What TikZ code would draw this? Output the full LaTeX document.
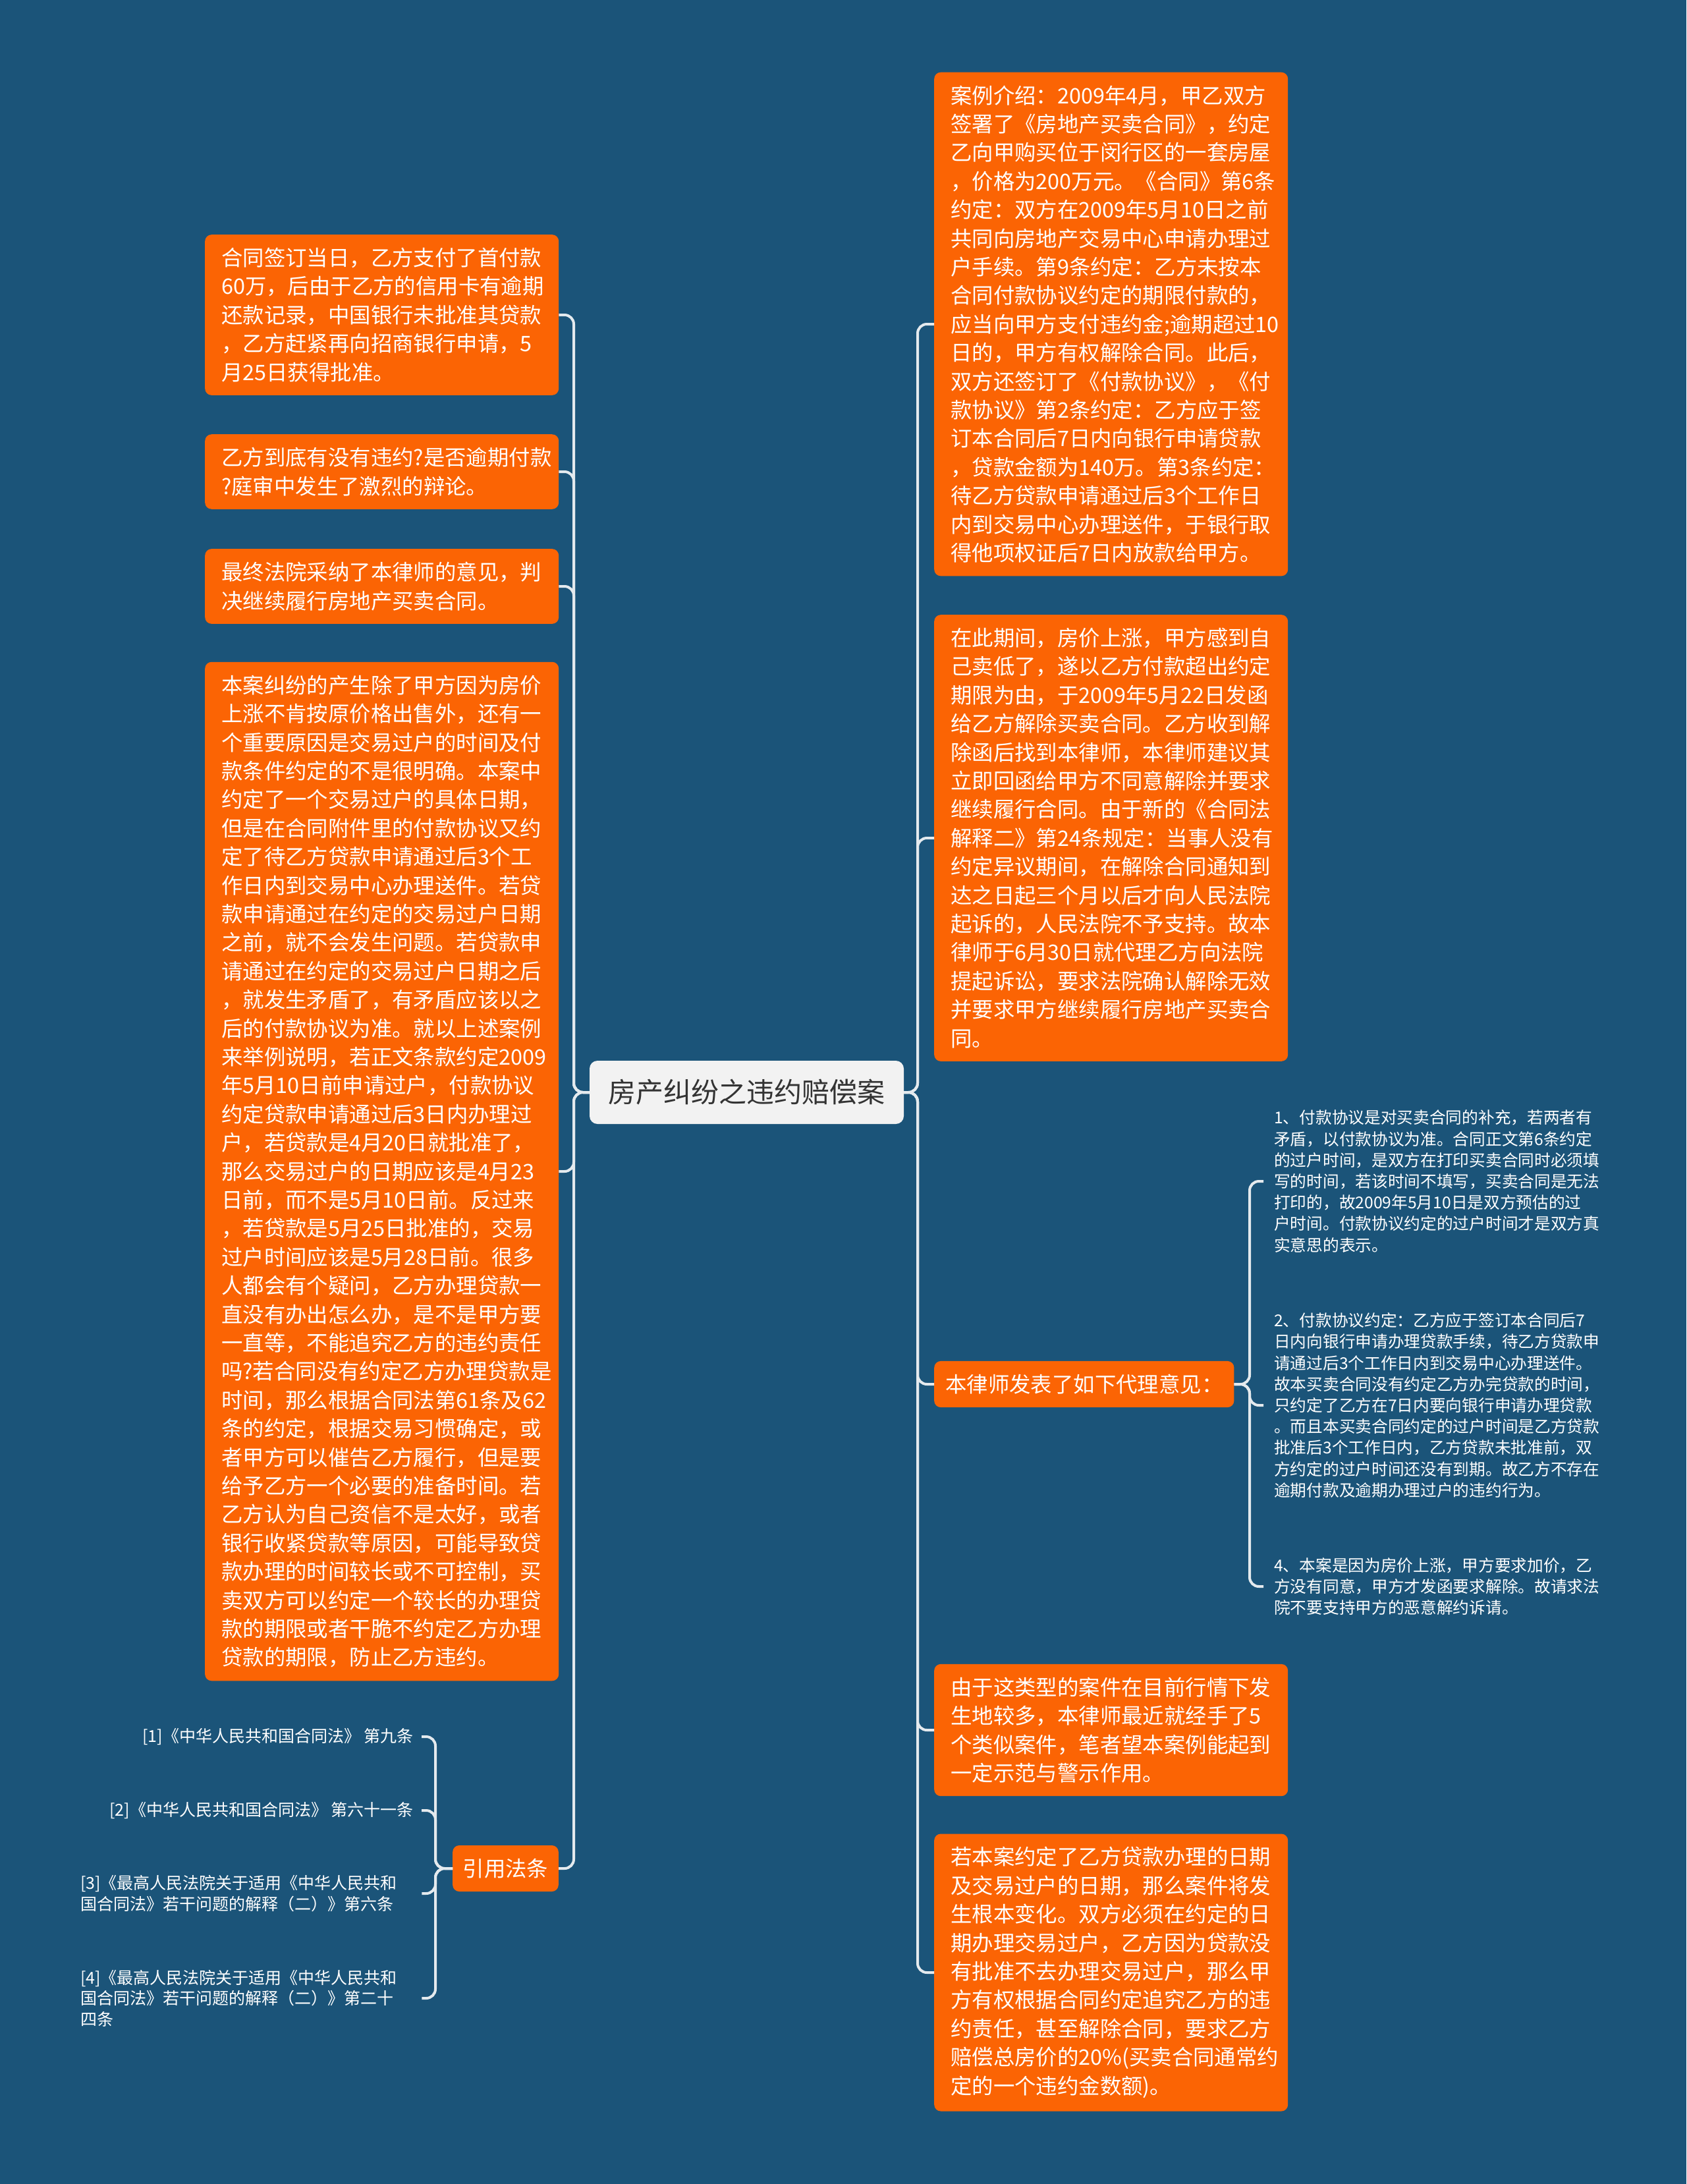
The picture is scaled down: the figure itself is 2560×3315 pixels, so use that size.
\documentclass[tikz,border=0pt]{standalone}
\usepackage{fontspec}
\setmainfont{Noto Sans CJK SC}
\definecolor{bgc}{HTML}{1B5479}
\definecolor{orc}{HTML}{FB6404}
\definecolor{lnc}{HTML}{E4EAEE}
\definecolor{cfill}{HTML}{F2F2F2}
\definecolor{ctext}{HTML}{333333}
\newcommand\myBoxFont{\fontsize{32.4pt}{43.4pt}\selectfont}
\newcommand\myNoteFont{\fontsize{24.7pt}{32.2pt}\selectfont}
\newcommand\myRefFont{\fontsize{25pt}{31.5pt}\selectfont}
\newcommand\myTopFont{\fontsize{42pt}{50pt}\selectfont}
\begin{document}
\begin{tikzpicture}[x=1pt,y=-1pt,
 obox/.style={fill=orc, rounded corners=10pt, text=white, align=left, text width=487pt, inner xsep=25pt, inner ysep=20pt, font=\myBoxFont, anchor=west},
 sbox/.style={fill=orc, rounded corners=10pt, text=white, inner ysep=20pt, font=\myBoxFont},
 note/.style={text=white, align=left, inner xsep=16pt, inner ysep=4pt, font=\myNoteFont, anchor=west},
 refn/.style={text=white, inner xsep=12pt, inner ysep=4pt, font=\myRefFont},
 conn/.style={draw=lnc, line width=4pt, rounded corners=14pt},
 cbox/.style={fill=cfill, rounded corners=12pt, text=ctext, font=\myTopFont, minimum width=477pt, minimum height=96pt, inner sep=0pt}
]
\fill[bgc] (0,0) rectangle (2560,3315);
\useasboundingbox (0,0) rectangle (2560,3315);

\node[cbox] (c) at (1133.5,1658) {房产纠纷之违约赔偿案};
\coordinate (rj) at (1393,1658);
\coordinate (lj) at (871,1658);

% right side
\node[obox] (r1) at (1418,492) {案例介绍：2009年4月，甲乙双方\\签署了《房地产买卖合同》，约定\\乙向甲购买位于闵行区的一套房屋\\，价格为200万元。《合同》第6条\\约定：双方在2009年5月10日之前\\共同向房地产交易中心申请办理过\\户手续。第9条约定：乙方未按本\\合同付款协议约定的期限付款的，\\应当向甲方支付违约金;逾期超过10\\日的，甲方有权解除合同。此后，\\双方还签订了《付款协议》，《付\\款协议》第2条约定：乙方应于签\\订本合同后7日内向银行申请贷款\\，贷款金额为140万。第3条约定：\\待乙方贷款申请通过后3个工作日\\内到交易中心办理送件，于银行取\\得他项权证后7日内放款给甲方。};
\node[obox] (r2) at (1418,1272) {在此期间，房价上涨，甲方感到自\\己卖低了，遂以乙方付款超出约定\\期限为由，于2009年5月22日发函\\给乙方解除买卖合同。乙方收到解\\除函后找到本律师，本律师建议其\\立即回函给甲方不同意解除并要求\\继续履行合同。由于新的《合同法\\解释二》第24条规定：当事人没有\\约定异议期间，在解除合同通知到\\达之日起三个月以后才向人民法院\\起诉的，人民法院不予支持。故本\\律师于6月30日就代理乙方向法院\\提起诉讼，要求法院确认解除无效\\并要求甲方继续履行房地产买卖合\\同。};
\node[sbox, anchor=west, inner xsep=17pt] (r3) at (1418,2101) {本律师发表了如下代理意见：};
\node[obox] (r4) at (1418,2626) {由于这类型的案件在目前行情下发\\生地较多，本律师最近就经手了5\\个类似案件，笔者望本案例能起到\\一定示范与警示作用。};
\node[obox] (r5) at (1418,2994) {若本案约定了乙方贷款办理的日期\\及交易过户的日期，那么案件将发\\生根本变化。双方必须在约定的日\\期办理交易过户，乙方因为贷款没\\有批准不去办理交易过户，那么甲\\方有权根据合同约定追究乙方的违\\约责任，甚至解除合同，要求乙方\\赔偿总房价的20\%(买卖合同通常约\\定的一个违约金数额)。};

% notes
\coordinate (nj) at (1897,2101);
\node[note] (n1) at (1918,1793) {1、付款协议是对买卖合同的补充，若两者有\\矛盾，以付款协议为准。合同正文第6条约定\\的过户时间，是双方在打印买卖合同时必须填\\写的时间，若该时间不填写，买卖合同是无法\\打印的，故2009年5月10日是双方预估的过\\户时间。付款协议约定的过户时间才是双方真\\实意思的表示。};
\node[note] (n2) at (1918,2133) {2、付款协议约定：乙方应于签订本合同后7\\日内向银行申请办理贷款手续，待乙方贷款申\\请通过后3个工作日内到交易中心办理送件。\\故本买卖合同没有约定乙方办完贷款的时间，\\只约定了乙方在7日内要向银行申请办理贷款\\。而且本买卖合同约定的过户时间是乙方贷款\\批准后3个工作日内，乙方贷款未批准前，双\\方约定的过户时间还没有到期。故乙方不存在\\逾期付款及逾期办理过户的违约行为。};
\node[note] (n4) at (1918,2408) {4、本案是因为房价上涨，甲方要求加价，乙\\方没有同意，甲方才发函要求解除。故请求法\\院不要支持甲方的恶意解约诉请。};

% left side
\node[obox] (l1) at (311,478) {合同签订当日，乙方支付了首付款\\60万，后由于乙方的信用卡有逾期\\还款记录，中国银行未批准其贷款\\，乙方赶紧再向招商银行申请，5\\月25日获得批准。};
\node[obox] (l2) at (311,716) {乙方到底有没有违约?是否逾期付款\\?庭审中发生了激烈的辩论。};
\node[obox] (l3) at (311,890) {最终法院采纳了本律师的意见，判\\决继续履行房地产买卖合同。};
\node[obox] (l4) at (311,1778) {本案纠纷的产生除了甲方因为房价\\上涨不肯按原价格出售外，还有一\\个重要原因是交易过户的时间及付\\款条件约定的不是很明确。本案中\\约定了一个交易过户的具体日期，\\但是在合同附件里的付款协议又约\\定了待乙方贷款申请通过后3个工\\作日内到交易中心办理送件。若贷\\款申请通过在约定的交易过户日期\\之前，就不会发生问题。若贷款申\\请通过在约定的交易过户日期之后\\，就发生矛盾了，有矛盾应该以之\\后的付款协议为准。就以上述案例\\来举例说明，若正文条款约定2009\\年5月10日前申请过户，付款协议\\约定贷款申请通过后3日内办理过\\户，若贷款是4月20日就批准了，\\那么交易过户的日期应该是4月23\\日前，而不是5月10日前。反过来\\，若贷款是5月25日批准的，交易\\过户时间应该是5月28日前。很多\\人都会有个疑问，乙方办理贷款一\\直没有办出怎么办，是不是甲方要\\一直等，不能追究乙方的违约责任\\吗?若合同没有约定乙方办理贷款是\\时间，那么根据合同法第61条及62\\条的约定，根据交易习惯确定，或\\者甲方可以催告乙方履行，但是要\\给予乙方一个必要的准备时间。若\\乙方认为自己资信不是太好，或者\\银行收紧贷款等原因，可能导致贷\\款办理的时间较长或不可控制，买\\卖双方可以约定一个较长的办理贷\\款的期限或者干脆不约定乙方办理\\贷款的期限，防止乙方违约。};
\node[sbox, anchor=east, inner xsep=15.5pt] (yy) at (848,2836) {引用法条};

% references
\coordinate (yj) at (661,2836);
\node[refn, anchor=east, align=right] (f1) at (640,2636) {[1]《中华人民共和国合同法》 第九条};
\node[refn, anchor=east, align=right] (f2) at (640,2748) {[2]《中华人民共和国合同法》 第六十一条};
\node[refn, anchor=west, align=left, text width=506pt] (f3) at (110,2874) {[3]《最高人民法院关于适用《中华人民共和\\国合同法》若干问题的解释（二）》第六条};
\node[refn, anchor=west, align=left, text width=506pt] (f4) at (110,3033) {[4]《最高人民法院关于适用《中华人民共和\\国合同法》若干问题的解释（二）》第二十\\四条};

% connectors
\foreach \t in {r1,r2,r3,r4,r5} \draw[conn] (c.east) -- (rj) |- (\t.west);
\foreach \t in {l1,l2,l3,l4,yy} \draw[conn] (c.west) -- (lj) |- (\t.east);
\foreach \t in {n1,n2,n4} \draw[conn] (r3.east) -- (nj) |- (\t.west);
\foreach \t in {f1,f2,f3,f4} \draw[conn] (yy.west) -- (yj) |- (\t.east);
\end{tikzpicture}
\end{document}
